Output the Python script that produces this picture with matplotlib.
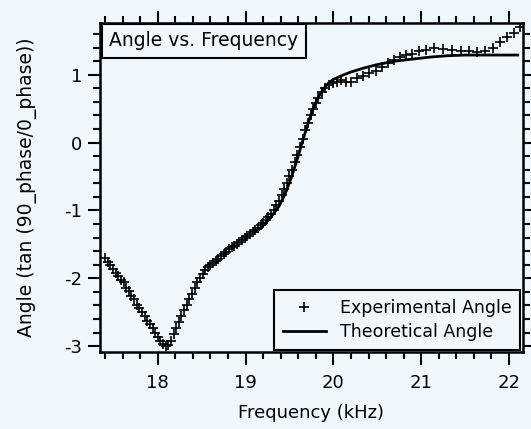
import numpy as np
import matplotlib
matplotlib.use("Agg")
import matplotlib.pyplot as plt
from matplotlib.ticker import MultipleLocator

plt.rcParams["axes.unicode_minus"] = False

# --- données ---
freq_exp = [
    17.40, 17.43, 17.46, 17.49, 17.52, 17.55, 17.58, 17.61, 17.64, 17.67,
    17.70, 17.73, 17.76, 17.79, 17.82, 17.85, 17.88, 17.91, 17.94, 17.97,
    18.00, 18.03, 18.06, 18.09, 18.12, 18.15, 18.18, 18.21, 18.24, 18.27,
    18.30, 18.33, 18.36, 18.39, 18.42, 18.45, 18.48, 18.51, 18.54, 18.57,
    18.60, 18.63, 18.66, 18.69, 18.72, 18.75, 18.78, 18.81, 18.84, 18.87,
    18.90, 18.93, 18.96, 18.99, 19.02, 19.05, 19.08, 19.11, 19.14, 19.17,
    19.20, 19.23, 19.26, 19.29, 19.32, 19.35, 19.38, 19.41, 19.44, 19.47,
    19.50, 19.53, 19.56, 19.59, 19.62, 19.65, 19.68, 19.71, 19.74, 19.77,
    19.80, 19.83, 19.87, 19.91, 19.95, 19.99, 20.04, 20.09, 20.14, 20.20,
    20.27, 20.34, 20.41, 20.48, 20.55, 20.62, 20.69, 20.76, 20.83, 20.90,
    20.97, 21.06, 21.15, 21.25, 21.35, 21.45, 21.55, 21.64, 21.73, 21.82,
    21.90, 21.98, 22.06, 22.12,
]
angle_exp = [
    -1.70, -1.76, -1.80, -1.86, -1.92, -1.97, -2.02, -2.06, -2.14, -2.19,
    -2.26, -2.31, -2.40, -2.44, -2.50, -2.56, -2.63, -2.68, -2.74, -2.80,
    -2.87, -2.92, -2.97, -3.00, -2.98, -2.93, -2.82, -2.74, -2.65, -2.56,
    -2.47, -2.40, -2.31, -2.23, -2.14, -2.06, -1.99, -1.93, -1.88, -1.84,
    -1.80, -1.77, -1.74, -1.71, -1.67, -1.64, -1.61, -1.57, -1.54, -1.52,
    -1.49, -1.46, -1.43, -1.40, -1.37, -1.35, -1.32, -1.29, -1.26, -1.22,
    -1.19, -1.14, -1.10, -1.05, -0.99, -0.92, -0.86, -0.78, -0.69, -0.60,
    -0.50, -0.40, -0.29, -0.18, -0.06, 0.06, 0.18, 0.29, 0.40, 0.50,
    0.59, 0.66, 0.74, 0.80, 0.85, 0.88, 0.90, 0.92, 0.90, 0.90,
    0.95, 0.98, 1.02, 1.06, 1.12, 1.18, 1.21, 1.26, 1.29, 1.31,
    1.35, 1.37, 1.39, 1.38, 1.36, 1.35, 1.35, 1.34, 1.35, 1.40,
    1.48, 1.55, 1.62, 1.70,
]

freq_theo = [
    19.10, 19.20, 19.30, 19.38, 19.45, 19.52, 19.58, 19.64, 19.70, 19.76,
    19.82, 19.88, 19.94, 20.00, 20.10, 20.20, 20.35, 20.50, 20.70, 20.90,
    21.10, 21.30, 21.50, 21.70, 21.90, 22.10,
]
angle_theo = [
    -1.33, -1.22, -1.08, -0.94, -0.76, -0.52, -0.28, -0.02, 0.24, 0.47,
    0.65, 0.78, 0.87, 0.93, 0.99, 1.04, 1.10, 1.15, 1.20, 1.23,
    1.26, 1.28, 1.29, 1.29, 1.29, 1.29,
]

BG = "#f1f8fd"

fig = plt.figure(figsize=(5.31, 4.29), dpi=100, facecolor=BG)
ax = fig.add_axes([0.188, 0.179, 0.797, 0.767], facecolor=BG)

ax.plot(freq_exp, angle_exp, linestyle="none", marker="+", color="black",
        markersize=6.5, markeredgewidth=1.2, label="Experimental Angle")
ax.plot(freq_theo, angle_theo, color="black", linewidth=2,
        label="Theoretical Angle")

ax.set_xlim(17.34, 22.16)
ax.set_ylim(-3.09, 1.76)

ax.xaxis.set_major_locator(MultipleLocator(1))
ax.xaxis.set_minor_locator(MultipleLocator(0.2))
ax.yaxis.set_major_locator(MultipleLocator(1))
ax.yaxis.set_minor_locator(MultipleLocator(0.2))

ax.tick_params(which="both", direction="out", top=True, right=True,
               width=1.5, labelsize=13)
ax.tick_params(which="major", length=9)
ax.tick_params(which="minor", length=5)
ax.tick_params(axis="x", which="major", pad=7)
for s in ax.spines.values():
    s.set_linewidth(1.8)

ax.set_xlabel("Frequency (kHz)", fontsize=13, labelpad=8)
ax.set_ylabel("Angle (tan (90_phase/0_phase))", fontsize=13.5, labelpad=20)

ax.text(0.022, 0.975, "Angle vs. Frequency", transform=ax.transAxes,
        fontsize=13.5, va="top", ha="left",
        bbox=dict(boxstyle="square,pad=0.4", fc=BG, ec="black", lw=1.5))

leg = ax.legend(loc="lower right", fontsize=12.5, frameon=True, fancybox=False,
                edgecolor="black", facecolor=BG, framealpha=1,
                borderaxespad=0.15, handlelength=2.5, labelspacing=0.35,
                borderpad=0.5)
leg.get_frame().set_linewidth(1.5)

fig.savefig("out.png", dpi=100, facecolor=BG)
